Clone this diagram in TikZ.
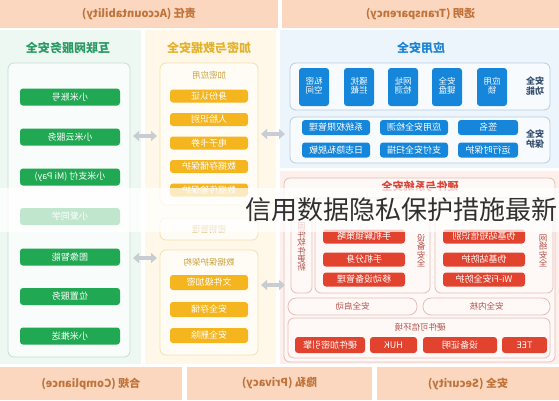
\documentclass[tikz,border=0pt]{standalone}
\usepackage{fontspec}
\usepackage{graphicx}
\setmainfont{Noto Sans CJK SC}
\usetikzlibrary{arrows.meta}
\definecolor{band}{HTML}{FAD7BE}
\definecolor{bandtxt}{HTML}{C0733A}
\definecolor{mintbg}{HTML}{EEF8F3}
\definecolor{mintpanel}{HTML}{F8FCFA}
\definecolor{mintline}{HTML}{C8DED2}
\definecolor{gbox}{HTML}{20A852}
\definecolor{gtitle}{HTML}{2A9A63}
\definecolor{creambg}{HTML}{FFF8E8}
\definecolor{creampanel}{HTML}{FFFCF5}
\definecolor{creamline}{HTML}{F2E0AE}
\definecolor{ybox}{HTML}{F4B51E}
\definecolor{ytitle}{HTML}{E3B12C}
\definecolor{yhead}{HTML}{C9A040}
\definecolor{bluebg}{HTML}{ECF5FC}
\definecolor{bluepanel}{HTML}{F7FBFE}
\definecolor{blueline}{HTML}{B9CCDF}
\definecolor{bbox}{HTML}{1586DA}
\definecolor{btitle}{HTML}{1E84D2}
\definecolor{blabel}{HTML}{34506E}
\definecolor{pinkbg}{HTML}{FCEFEC}
\definecolor{pinkpanel}{HTML}{FEF8F6}
\definecolor{pinkline}{HTML}{E6BDB6}
\definecolor{rbox}{HTML}{E2432F}
\definecolor{rtitle}{HTML}{D9483A}
\definecolor{rlabel}{HTML}{B5524A}
\definecolor{arrowgrey}{HTML}{C8CDD4}
\definecolor{wmark}{HTML}{303030}
\newcommand{\mirr}[1]{\reflectbox{#1}}
\newcommand{\twol}[2]{\reflectbox{\begin{tabular}{@{}c@{}}#1\\[-1pt]#2\end{tabular}}}
\newcommand{\vstack}[1]{\reflectbox{\begin{tabular}{@{}c@{}}#1\end{tabular}}}
\tikzset{
  bandnode/.style={fill=band, text=bandtxt, font=\bfseries\fontsize{11}{13}\selectfont, inner sep=0, minimum height=28},
  coltitle/.style={font=\bfseries\fontsize{12}{14}\selectfont, inner sep=1},
  gpanel/.style={draw=mintline, fill=mintpanel, rounded corners=6, line width=0.8, inner sep=0},
  ypanel/.style={draw=creamline, fill=creampanel, rounded corners=6, line width=0.8, inner sep=0},
  bpanel/.style={draw=blueline, fill=bluepanel, rounded corners=6, line width=0.8, inner sep=0},
  rpanel/.style={draw=pinkline, fill=pinkpanel, rounded corners=6, line width=0.8, inner sep=0},
  boxtxt/.style={text=white, inner sep=0, font=\fontsize{9}{10}\selectfont},
  gbx/.style={boxtxt, fill=gbox, rounded corners=3, minimum width=100, minimum height=17},
  ybx/.style={boxtxt, fill=ybox, rounded corners=3, minimum width=78},
  bbx/.style={boxtxt, fill=bbox, rounded corners=3, minimum height=15},
  bsq/.style={boxtxt, fill=bbox, rounded corners=3, minimum width=30, minimum height=38, font=\fontsize{8.5}{10}\selectfont},
  rbx/.style={boxtxt, fill=rbox, rounded corners=3, minimum height=14},
  head/.style={inner sep=0, font=\fontsize{8.5}{10}\selectfont},
  dbl/.style={arrowgrey, line width=4, {Triangle[length=6pt,width=10pt]}-{Triangle[length=6pt,width=10pt]}, shorten <=0pt, shorten >=0pt}
}
\begin{document}
\begin{tikzpicture}[x=1pt,y=-1pt]
\useasboundingbox (0,0) rectangle (559,400);
\fill[white] (0,0) rectangle (559,400);
% column backgrounds
\fill[mintbg] (0,30) rectangle (141,364);
\fill[creambg] (145,30) rectangle (276,364);
\fill[bluebg] (280,30) rectangle (559,168);
\fill[pinkbg] (280,171) rectangle (559,364);
% bands
\node[bandnode, minimum width=278] (acc) at (139,14) {\mirr{责任 (Accountability)}};
\node[bandnode, minimum width=277] (trans) at (420.5,14) {\mirr{透明 (Transparency)}};
\node[bandnode, minimum width=182, minimum height=33] (comp) at (91,383.5) {\mirr{合规 (Compliance)}};
\node[bandnode, minimum width=185, minimum height=33] (priv) at (279.5,383.5) {\mirr{隐私 (Privacy)}};
\node[bandnode, minimum width=182, minimum height=33] (sec) at (468,383.5) {\mirr{安全 (Security)}};
% left column
\node[coltitle, text=gtitle] (ltitle) at (68,48) {\mirr{互联网服务安全}};
\node[gpanel, minimum width=122, minimum height=294] (lpanel) at (69,210) {};
\node[gbx] (g1) at (70,97) {\mirr{小米账号}};
\node[gbx] (g2) at (70,137) {\mirr{小米云服务}};
\node[gbx] (g3) at (70,177) {\mirr{小米支付 (Mi Pay)}};
\node[gbx] (g4) at (70,216.5) {\mirr{小爱同学}};
\node[gbx] (g5) at (70,257) {\mirr{图像智能}};
\node[gbx] (g6) at (70,296.5) {\mirr{位置服务}};
\node[gbx] (g7) at (70,336) {\mirr{小米推送}};
% middle column
\node[coltitle, text=ytitle] (mtitle) at (209,48) {\mirr{加密与数据安全}};
\node[ypanel, minimum width=98, minimum height=142] (mpa) at (209,134) {};
\node[head, text=yhead] (mpah) at (209,75) {\mirr{加密应用}};
\node[ybx, minimum height=13] (y1) at (209,96) {\mirr{身份认证}};
\node[ybx, minimum height=13] (y2) at (209,119.5) {\mirr{人脸识别}};
\node[ybx, minimum height=13] (y3) at (209,143) {\mirr{电子卡券}};
\node[ybx, minimum height=13] (y4) at (209,166.5) {\mirr{数据存储保护}};
\node[ybx, minimum height=13] (y5) at (209,190) {\mirr{数据传输保护}};
\node[ypanel, minimum width=98, minimum height=22] (key) at (209,229) {};
\node[head, text=yhead] (keyh) at (209,229) {\mirr{密钥管理}};
\node[ypanel, minimum width=98, minimum height=105] (mpb) at (209,302.5) {};
\node[head, text=yhead] (mpbh) at (209,262) {\mirr{数据保护架构}};
\node[ybx, minimum height=15] (y6) at (209,282.5) {\mirr{文件级加密}};
\node[ybx, minimum height=15] (y7) at (209,309.5) {\mirr{安全存储}};
\node[ybx, minimum height=15] (y8) at (209,335.5) {\mirr{安全删除}};
% right top: application security
\node[coltitle, text=btitle] (btitle) at (421,48) {\mirr{应用安全}};
\node[bpanel, minimum width=260, minimum height=47] (bp1) at (420,86.5) {};
\node[bsq] (s1) at (314,87) {\twol{私密}{空间}};
\node[bsq] (s2) at (359,87) {\twol{骚扰}{拦截}};
\node[bsq] (s3) at (403,87) {\twol{网址}{检测}};
\node[bsq] (s4) at (447,87) {\twol{安全}{键盘}};
\node[bsq] (s5) at (492,87) {\twol{应用}{锁}};
\node[head, text=blabel, font=\bfseries\fontsize{9}{10}\selectfont] (bl1) at (535,87) {\twol{安全}{功能}};
\node[bpanel, minimum width=260, minimum height=46] (bp2) at (420,140) {};
\node[bbx, minimum width=68] (p1) at (336,127.5) {\mirr{系统权限管理}};
\node[bbx, minimum width=68] (p2) at (414,127.5) {\mirr{应用安全检测}};
\node[bbx, minimum width=60] (p3) at (488,127.5) {\mirr{签名}};
\node[bbx, minimum width=68] (p4) at (336,150) {\mirr{日志隐私脱敏}};
\node[bbx, minimum width=68] (p5) at (414,150) {\mirr{支付安全扫描}};
\node[bbx, minimum width=60] (p6) at (488,150) {\mirr{运行时保护}};
\node[head, text=blabel, font=\bfseries\fontsize{9}{10}\selectfont] (bl2) at (535,140) {\twol{安全}{保护}};
% right bottom: hardware & system security
\node[rpanel, minimum width=271, minimum height=184] (rout) at (419.5,270) {};
\node[coltitle, text=rtitle, font=\bfseries\fontsize{11}{13}\selectfont] (rtitle) at (420,186) {\mirr{硬件与系统安全}};
\node[rpanel, minimum width=21, minimum height=95] (rp0) at (301.5,245.5) {};
\node[head, text=rlabel] (rl0) at (301.5,248) {\vstack{固\\[-2pt]件\\[-2pt]软\\[-2pt]件\\[-2pt]更\\[-2pt]新}};
\node[rpanel, minimum width=115, minimum height=95] (rp1) at (372.5,245.5) {};
\node[rbx, minimum width=82] (r1) at (364,236.5) {\mirr{手机解锁策略}};
\node[rbx, minimum width=82] (r2) at (364,259.5) {\mirr{手机分身}};
\node[rbx, minimum width=82] (r3) at (364,279.5) {\mirr{移动设备管理}};
\node[head, text=rlabel] (rl1) at (421,252) {\vstack{设\\[-2pt]备\\[-2pt]安\\[-2pt]全}};
\node[rpanel, minimum width=118, minimum height=95] (rp2) at (494,245.5) {};
\node[rbx, minimum width=82] (r4) at (484,236.5) {\mirr{伪基站短信识别}};
\node[rbx, minimum width=82] (r5) at (484,259.5) {\mirr{伪基站防护}};
\node[rbx, minimum width=82] (r6) at (484,279.5) {\mirr{Wi-Fi安全防护}};
\node[head, text=rlabel] (rl2) at (543,252) {\vstack{网\\[-2pt]络\\[-2pt]安\\[-2pt]全}};
\node[rpanel, rounded corners=8, minimum width=129, minimum height=17] (boot) at (352.5,306.5) {};
\node[head, text=rlabel] (booth) at (352.5,306.5) {\mirr{安全启动}};
\node[rpanel, rounded corners=8, minimum width=127, minimum height=17] (kern) at (486.5,306.5) {};
\node[head, text=rlabel] (kernh) at (486.5,306.5) {\mirr{安全内核}};
\node[rpanel, minimum width=262, minimum height=40] (hw) at (419,338) {};
\node[head, text=rlabel] (hwh) at (420,327) {\mirr{硬件可信环境}};
\node[rbx, minimum width=70, minimum height=16] (h1) at (330,345) {\mirr{硬件加密引擎}};
\node[rbx, minimum width=47, minimum height=16] (h2) at (393.5,345) {\mirr{HUK}};
\node[rbx, minimum width=74, minimum height=16] (h3) at (460,345) {\mirr{设备证明}};
\node[rbx, minimum width=45, minimum height=16] (h4) at (524.5,345) {\mirr{TEE}};
% arrows
\coordinate (a1l) at (133,136); \coordinate (a1r) at (157,136);
\coordinate (a2l) at (133,258); \coordinate (a2r) at (157,258);
\coordinate (a3l) at (261,134); \coordinate (a3r) at (285,134);
\coordinate (a4l) at (261,285); \coordinate (a4r) at (285,285);
\draw[dbl] (a1l) -- (a1r);
\draw[dbl] (a2l) -- (a2r);
\draw[dbl] (a3l) -- (a3r);
\draw[dbl] (a4l) -- (a4r);
% overlay band and watermark text
\fill[white, opacity=0.72] (0,188) rectangle (559,232);
\node[anchor=west, inner sep=0, text=wmark, font=\fontsize{26}{28}\selectfont] (wm) at (245,210) {信用数据隐私保护措施最新};
\end{tikzpicture}
\end{document}
